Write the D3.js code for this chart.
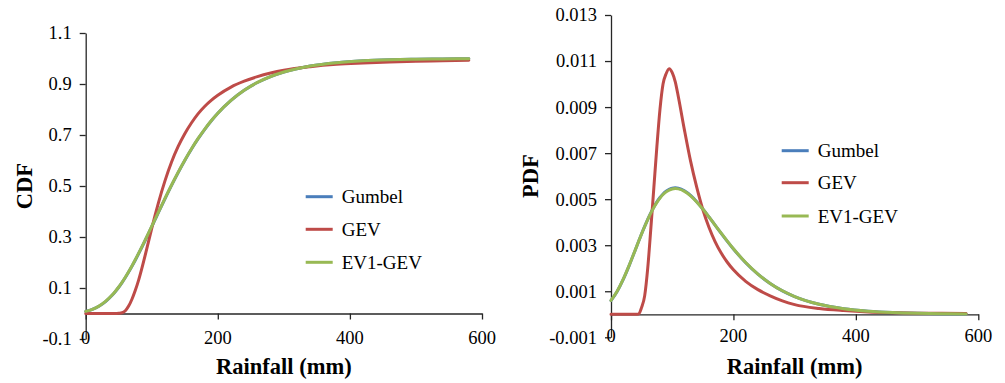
<!DOCTYPE html>
<html>
<head>
<meta charset="utf-8">
<script src="https://cdn.jsdelivr.net/npm/d3@7"></script>
<style>
  html, body { margin: 0; padding: 0; background: #fff; }
</style>
</head>
<body>
<div id="chart"></div>
<script>
// ---- data ----
var rainfall = [0, 10, 20, 30, 40, 45, 50, 55, 60, 65, 70, 75, 80, 85, 90, 95, 100, 105, 110,
    120, 130, 140, 150, 160, 170, 180, 190, 200, 220, 240, 260, 280, 300, 340, 380, 420, 460, 500, 540, 580];

var gumbelCdf = [0.0083, 0.0161, 0.0286, 0.0468, 0.0715, 0.0864, 0.1030, 0.1213, 0.1412, 0.1626, 0.1852,
    0.2091, 0.2341, 0.2598, 0.2862, 0.3132, 0.3405, 0.3679, 0.3953, 0.4496, 0.5023, 0.5526, 0.6000, 0.6440,
    0.6845, 0.7214, 0.7549, 0.7849, 0.8355, 0.8752, 0.9058, 0.9292, 0.9470, 0.9705, 0.9836, 0.9910, 0.9950,
    0.9973, 0.9985, 0.9992];
var gevCdf = [0, 0, 0, 0, 0, 0, 0.001, 0.003, 0.011, 0.029, 0.056, 0.090, 0.130, 0.177, 0.228, 0.281, 0.334,
    0.385, 0.433, 0.520, 0.594, 0.655, 0.705, 0.747, 0.783, 0.812, 0.836, 0.856, 0.888, 0.911, 0.929, 0.943,
    0.954, 0.968, 0.977, 0.982, 0.986, 0.989, 0.991, 0.993];
var ev1GevCdf = [0.0085, 0.0164, 0.0290, 0.0473, 0.0722, 0.0872, 0.1039, 0.1223, 0.1423, 0.1638, 0.1865,
    0.2105, 0.2356, 0.2614, 0.2879, 0.3149, 0.3422, 0.3696, 0.3970, 0.4512, 0.5038, 0.5540, 0.6013, 0.6452,
    0.6855, 0.7223, 0.7557, 0.7856, 0.8360, 0.8756, 0.9061, 0.9294, 0.9471, 0.9706, 0.9836, 0.9910, 0.9950,
    0.9973, 0.9985, 0.9992];

var gumbelPdf = [0.000593, 0.000992, 0.001515, 0.002137, 0.002815, 0.003158, 0.003495, 0.003820, 0.004127,
    0.004408, 0.004661, 0.004885, 0.005073, 0.005227, 0.005345, 0.005427, 0.005475, 0.005491, 0.005476,
    0.005364, 0.005163, 0.004891, 0.004575, 0.004230, 0.003872, 0.003515, 0.003169, 0.002837, 0.002241,
    0.001742, 0.001337, 0.001018, 0.000770, 0.000434, 0.000242, 0.000134, 0.000074, 0.000041, 0.000023, 0.000012];
var gevPdf = [0, 0, 0, 0, 0, 0.00001, 0.0003, 0.0008, 0.0020, 0.0037, 0.0055, 0.0073, 0.0089, 0.0100, 0.01045,
    0.01067, 0.01050, 0.01010, 0.00945, 0.00800, 0.00665, 0.00552, 0.00455, 0.00378, 0.00316, 0.00266, 0.00226,
    0.00193, 0.00143, 0.00107, 0.00080, 0.00058, 0.00042, 0.00025, 0.00016, 0.0001, 0.00007, 0.00005, 0.00004, 0.00003];
var ev1GevPdf = [0.000600, 0.001000, 0.001525, 0.002145, 0.002818, 0.003158, 0.003491, 0.003812, 0.004115,
    0.004392, 0.004642, 0.004862, 0.005048, 0.005200, 0.005316, 0.005397, 0.005444, 0.005461, 0.005448,
    0.005340, 0.005145, 0.004880, 0.004570, 0.004230, 0.003876, 0.003521, 0.003176, 0.002844, 0.002247,
    0.001747, 0.001340, 0.001020, 0.000771, 0.000434, 0.000242, 0.000134, 0.000074, 0.000041, 0.000023, 0.000012];

var seriesNames = ['Gumbel', 'GEV', 'EV1-GEV'];
var seriesColors = ['#4A7EBB', '#BE4B48', '#98B954'];

var rainTicks = [0, 200, 400, 600];
var cdfTicks = [-0.1, 0.1, 0.3, 0.5, 0.7, 0.9, 1.1];
var pdfTicks = [-0.001, 0.001, 0.003, 0.005, 0.007, 0.009, 0.011, 0.013];

// ---- drawing ----
var W = 1005, H = 383;
var AXIS = '#262626';
var FONT = '"Liberation Serif", "DejaVu Serif", serif';

var svg = d3.select('#chart').append('svg')
    .attr('width', W)
    .attr('height', H)
    .attr('font-family', FONT);

svg.append('rect').attr('width', W).attr('height', H).attr('fill', '#fff');

function drawPanel(p) {
    var x = d3.scaleLinear().domain([0, 600]).range([p.left, p.right]);
    var y = d3.scaleLinear().domain([p.ticks[0], p.ticks[p.ticks.length - 1]]).range([p.bottom, p.top]);
    var g = svg.append('g');

    // y axis (full height, ticks to the left)
    var yAxis = g.append('g')
        .attr('transform', 'translate(' + x(0) + ',0)')
        .call(d3.axisLeft(y).tickValues(p.ticks).tickSize(6).tickSizeOuter(0).tickPadding(8)
            .tickFormat(function(d) { return d.toFixed(p.digits); }));
    yAxis.attr('font-family', FONT).attr('font-size', 18.5);
    yAxis.select('.domain').attr('stroke', AXIS).attr('stroke-width', 1.3);
    yAxis.selectAll('.tick line').attr('stroke', AXIS).attr('stroke-width', 1.3);
    yAxis.selectAll('.tick text').attr('fill', '#000');

    // x axis drawn at y = 0, ticks pointing down
    var xAxis = g.append('g')
        .attr('transform', 'translate(0,' + y(0) + ')')
        .call(d3.axisBottom(x).tickValues(rainTicks).tickSize(6).tickSizeOuter(0).tickFormat(''));
    xAxis.select('.domain').attr('stroke', AXIS).attr('stroke-width', 1.3);
    xAxis.selectAll('.tick line').attr('stroke', AXIS).attr('stroke-width', 1.3);

    // x tick labels sit at the bottom of the plot
    g.selectAll('.xlab')
        .data(rainTicks)
        .join('text')
        .attr('class', 'xlab')
        .attr('x', function(d) { return x(d); })
        .attr('y', p.bottom + 5)
        .attr('text-anchor', 'middle')
        .attr('font-family', FONT)
        .attr('font-size', 18.5)
        .text(function(d) { return d; });

    // curves
    var line = d3.line()
        .x(function(d) { return x(d[0]); })
        .y(function(d) { return y(d[1]); })
        .curve(d3.curveMonotoneX);

    p.series.forEach(function(vals, i) {
        g.append('path')
            .datum(rainfall.map(function(r, k) { return [r, vals[k]]; }))
            .attr('fill', 'none')
            .attr('stroke', seriesColors[i])
            .attr('stroke-width', 3)
            .attr('stroke-linejoin', 'round')
            .attr('stroke-linecap', 'round')
            .attr('d', line);
    });

    // axis titles
    g.append('text')
        .attr('x', (p.left + p.right) / 2)
        .attr('y', 374)
        .attr('text-anchor', 'middle')
        .attr('font-family', FONT)
        .attr('font-size', 22.5)
        .attr('font-weight', 'bold')
        .text('Rainfall (mm)');

    g.append('text')
        .attr('transform', 'translate(' + (p.titleX + 7.5) + ',' + ((p.top + p.bottom) / 2) + ') rotate(-90)')
        .attr('text-anchor', 'middle')
        .attr('font-family', FONT)
        .attr('font-size', 22.5)
        .attr('font-weight', 'bold')
        .text(p.title);

    // legend
    var leg = g.selectAll('.leg')
        .data(seriesNames)
        .join('g')
        .attr('class', 'leg')
        .attr('transform', function(d, i) { return 'translate(' + p.legendX + ',' + p.legendY[i] + ')'; });
    leg.append('line')
        .attr('x1', 0).attr('x2', 27)
        .attr('stroke', function(d, i) { return seriesColors[i]; })
        .attr('stroke-width', 3);
    leg.append('text')
        .attr('x', 36)
        .attr('y', 6.5)
        .attr('font-family', FONT)
        .attr('font-size', 19)
        .text(function(d) { return d; });
}

drawPanel({
    left: 85.7, right: 482, top: 33, bottom: 339,
    ticks: cdfTicks, digits: 1, title: 'CDF', titleX: 24,
    series: [gumbelCdf, gevCdf, ev1GevCdf],
    legendX: 305.7, legendY: [196.7, 229.3, 262.3]
});

drawPanel({
    left: 611, right: 978.3, top: 15, bottom: 337.3,
    ticks: pdfTicks, digits: 3, title: 'PDF', titleX: 530,
    series: [gumbelPdf, gevPdf, ev1GevPdf],
    legendX: 781.7, legendY: [150.7, 182.7, 216]
});
</script>
</body>
</html>
